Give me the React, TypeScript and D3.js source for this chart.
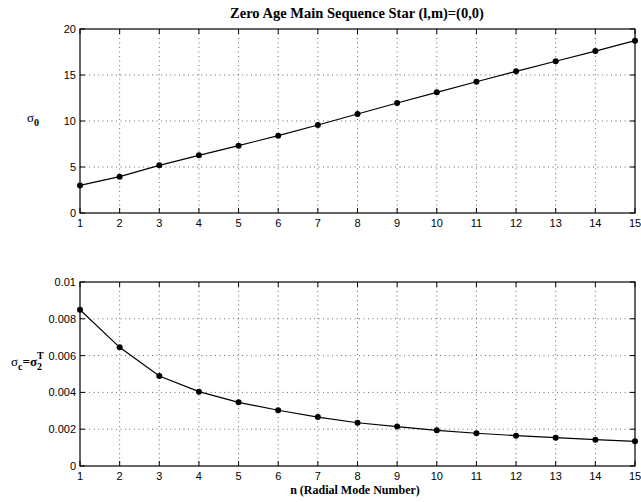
import React, { useEffect, useRef } from 'react';
import * as d3 from 'd3';

// radial mode number n
const modes = [1, 2, 3, 4, 5, 6, 7, 8, 9, 10, 11, 12, 13, 14, 15];
// sigma_0 per mode
const sigma0 = [3.0, 3.95, 5.18, 6.27, 7.32, 8.41, 9.57, 10.76, 11.96, 13.12, 14.27, 15.4, 16.49, 17.6, 18.73];
// sigma_c = sigma_2^T per mode
const sigmaC = [0.00849, 0.00645, 0.00489, 0.00404, 0.00346, 0.00303, 0.00266, 0.00235, 0.00214, 0.00194, 0.00178, 0.00165, 0.00154, 0.00143, 0.00134];

const topTicks = [0, 5, 10, 15, 20];
const bottomTicks = [0, 0.002, 0.004, 0.006, 0.008, 0.01];
const bottomTickLabels = ['0', '0.002', '0.004', '0.006', '0.008', '0.01'];

const W = 641;
const H = 502;
const left = 80;
const right = 635;

const App = () => {
  const svgRef = useRef<SVGSVGElement>(null);

  useEffect(() => {
    const svg = d3.select(svgRef.current);
    svg.selectAll('*').remove();

    const x = d3.scaleLinear().domain([1, 15]).range([left, right]);

    const drawPanel = (
      values: number[],
      yDomain: [number, number],
      top: number,
      bottom: number,
      yTicks: number[],
      yLabels: string[]
    ) => {
      const y = d3.scaleLinear().domain(yDomain).range([bottom, top]);
      const g = svg.append('g');

      // dotted grid
      g.selectAll('.gx')
        .data(modes.slice(1, -1))
        .join('line')
        .attr('x1', d => x(d)).attr('x2', d => x(d))
        .attr('y1', top).attr('y2', bottom)
        .attr('stroke', '#000').attr('stroke-width', 0.6)
        .attr('stroke-dasharray', '1,3.5');
      g.selectAll('.gy')
        .data(yTicks.slice(1, -1))
        .join('line')
        .attr('x1', left).attr('x2', right)
        .attr('y1', d => y(d)).attr('y2', d => y(d))
        .attr('stroke', '#000').attr('stroke-width', 0.6)
        .attr('stroke-dasharray', '1,3.5');

      // inward ticks on all four sides
      const tl = 5;
      modes.forEach(m => {
        g.append('line').attr('x1', x(m)).attr('x2', x(m)).attr('y1', bottom).attr('y2', bottom - tl).attr('stroke', '#000');
        g.append('line').attr('x1', x(m)).attr('x2', x(m)).attr('y1', top).attr('y2', top + tl).attr('stroke', '#000');
      });
      yTicks.forEach(t => {
        g.append('line').attr('x1', left).attr('x2', left + tl).attr('y1', y(t)).attr('y2', y(t)).attr('stroke', '#000');
        g.append('line').attr('x1', right).attr('x2', right - tl).attr('y1', y(t)).attr('y2', y(t)).attr('stroke', '#000');
      });

      // frame
      g.append('rect')
        .attr('x', left).attr('y', top)
        .attr('width', right - left).attr('height', bottom - top)
        .attr('fill', 'none').attr('stroke', '#000').attr('stroke-width', 1.2);

      // tick labels
      g.selectAll('.xl')
        .data(modes)
        .join('text')
        .attr('x', d => x(d)).attr('y', bottom + 14)
        .attr('text-anchor', 'middle')
        .attr('font-family', 'Liberation Sans, Arial, sans-serif')
        .attr('font-size', 11)
        .text(d => d);
      g.selectAll('.yl')
        .data(yTicks)
        .join('text')
        .attr('x', left - 4).attr('y', d => y(d) + 4)
        .attr('text-anchor', 'end')
        .attr('font-family', 'Liberation Sans, Arial, sans-serif')
        .attr('font-size', 11)
        .text((d, i) => yLabels[i]);

      // line + markers
      const line = d3.line<number>().x((d, i) => x(modes[i])).y(d => y(d));
      g.append('path')
        .datum(values)
        .attr('d', line)
        .attr('fill', 'none').attr('stroke', '#000').attr('stroke-width', 1.2);
      g.selectAll('.pt')
        .data(values)
        .join('circle')
        .attr('cx', (d, i) => x(modes[i])).attr('cy', d => y(d))
        .attr('r', 3).attr('fill', '#000');
    };

    drawPanel(sigma0, [0, 20], 29, 213, topTicks, topTicks.map(String));
    drawPanel(sigmaC, [0, 0.01], 282, 466, bottomTicks, bottomTickLabels);

    const serif = 'Liberation Serif, Times New Roman, serif';

    svg.append('text')
      .attr('x', 357).attr('y', 18)
      .attr('text-anchor', 'middle')
      .attr('font-family', serif).attr('font-weight', 'bold').attr('font-size', 14.5)
      .text('Zero Age Main Sequence Star (l,m)=(0,0)');

    svg.append('text')
      .attr('x', 355).attr('y', 494)
      .attr('text-anchor', 'middle')
      .attr('font-family', serif).attr('font-weight', 'bold').attr('font-size', 12)
      .text('n (Radial Mode Number)');

    // y label top: sigma_0
    const yl1 = svg.append('text')
      .attr('x', 27).attr('y', 122)
      .attr('font-family', serif).attr('font-size', 13);
    yl1.append('tspan').text('σ');
    yl1.append('tspan').attr('dy', 4).attr('font-size', 10).attr('font-weight', 'bold').text('0');

    // y label bottom: sigma_c = sigma_2^T
    const yl2 = svg.append('text')
      .attr('x', 11).attr('y', 366)
      .attr('font-family', serif).attr('font-size', 13);
    yl2.append('tspan').text('σ');
    yl2.append('tspan').attr('dy', 4).attr('font-size', 10).attr('font-weight', 'bold').text('c');
    yl2.append('tspan').attr('dy', -4).attr('font-weight', 'bold').text('=σ');
    yl2.append('tspan').attr('dy', 4).attr('font-size', 10).attr('font-weight', 'bold').text('2');
    yl2.append('tspan').attr('dx', -5).attr('dy', -11).attr('font-size', 10).attr('font-weight', 'bold').text('T');
  }, []);

  return (
    <svg
      ref={svgRef}
      width={W}
      height={H}
      style={{ position: 'absolute', left: 0, top: 0, background: '#fff' }}
    />
  );
};

export default App;
